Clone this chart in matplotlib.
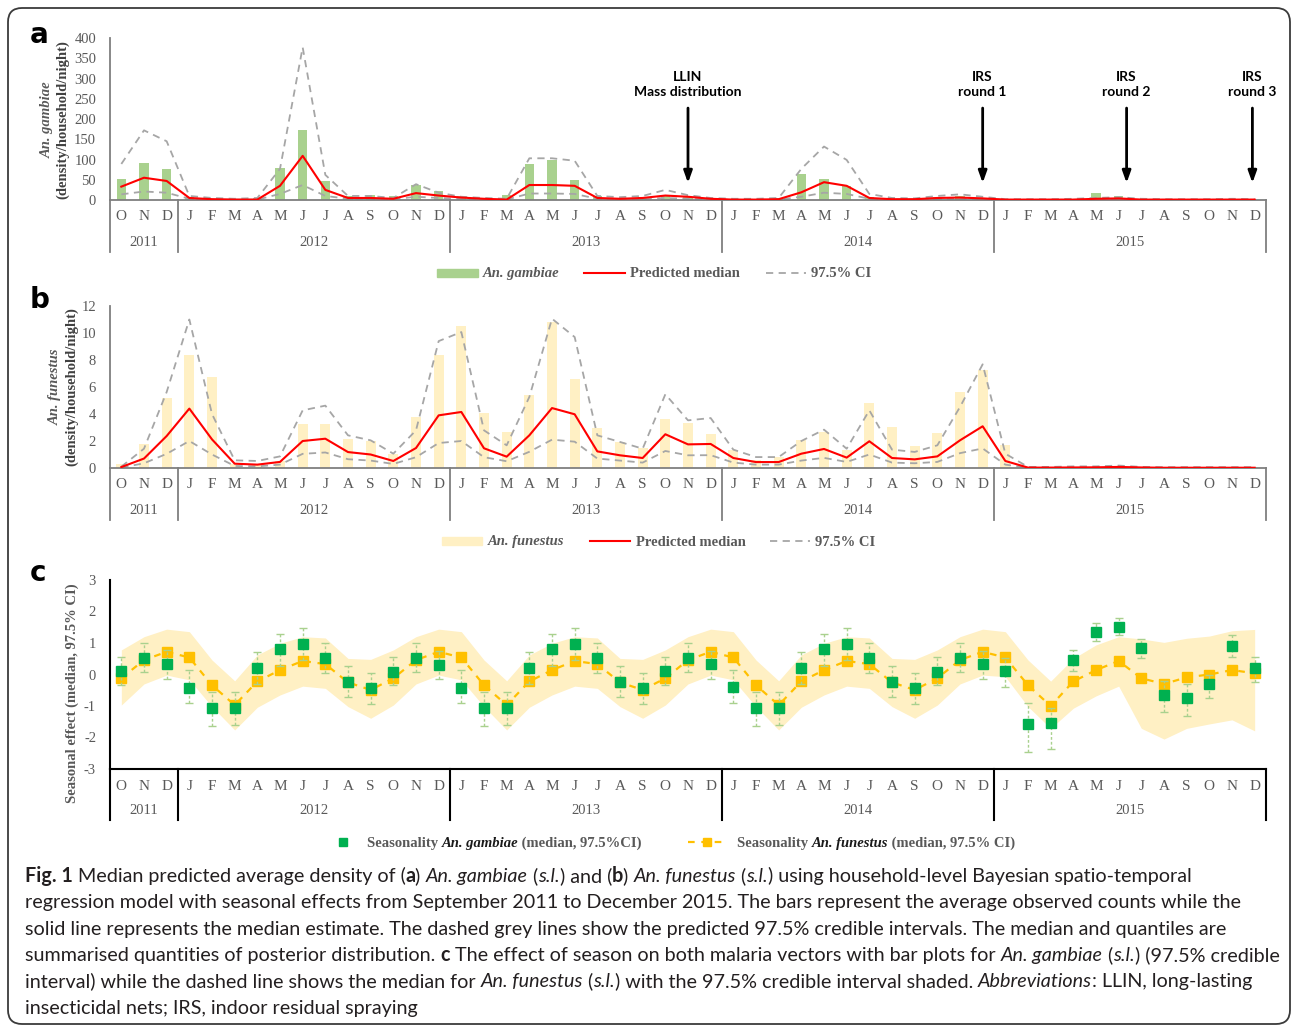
import matplotlib
matplotlib.use("Agg")
from matplotlib import pyplot as plt
from matplotlib import transforms as mtrans
from matplotlib.patches import FancyBboxPatch, Rectangle
from matplotlib.lines import Line2D
from matplotlib.font_manager import FontProperties, findfont, get_font
import numpy as np

W, H = 1292, 1027
plt.rcParams['axes.unicode_minus'] = False

months = ['O', 'N', 'D'] + ['J', 'F', 'M', 'A', 'M', 'J', 'J', 'A', 'S', 'O', 'N', 'D'] * 4
years = ['2011', '2012', '2013', '2014', '2015']
year_start = [0, 3, 15, 27, 39]
year_end = [2, 14, 26, 38, 50]

# panel a - An. gambiae observed counts and model
gam_obs = [53, 91, 76,
           8, 3, 2, 4, 79, 172, 48, 11, 12, 10, 38, 23,
           10, 3, 12, 89, 98, 50, 10, 5, 7, 13, 8, 3,
           2, 2, 5, 65, 51, 35, 8, 3, 3, 8, 10, 6,
           1, 1, 1, 2, 17, 11, 2, 1, 1, 1, 3, 1]
gam_med = [33, 55, 47,
           5, 2, 1, 1, 35, 109, 25, 5, 5, 3, 17, 11,
           6, 3, 1, 37, 37, 35, 5, 3, 5, 11, 8, 3,
           1, 1, 2, 19, 44, 35, 5, 2, 2, 5, 6, 4,
           1, 1, 1, 1, 3, 4, 1, 1, 1, 1, 1, 1]
gam_hi = [89, 172, 145,
          10, 5, 3, 5, 77, 377, 62, 10, 10, 5, 39, 18,
          8, 5, 3, 103, 103, 97, 10, 7, 10, 25, 12, 5,
          3, 3, 5, 77, 132, 99, 15, 5, 4, 10, 14, 8,
          2, 2, 2, 3, 5, 7, 3, 2, 2, 2, 3, 2]
gam_lo = [14, 21, 18,
          3, 1, 1, 1, 15, 37, 10, 3, 3, 2, 8, 5,
          3, 1, 1, 16, 16, 15, 3, 2, 2, 5, 3, 1,
          0.5, 0.5, 1, 8, 18, 15, 3, 1, 1, 2, 3, 2,
          0.5, 0.5, 0.5, 0.5, 0.5, 0.5, 0.5, 0.5, 0.5, 0.5, 0.5, 0.5]

# panel b - An. funestus
fun_obs = [0.3, 1.75, 5.2,
           8.35, 6.74, 0.3, 0.2, 0.5, 3.23, 3.23, 2.17, 2.0, 1.06, 3.78, 8.35,
           10.54, 4.05, 2.67, 5.4, 10.8, 6.57, 3.0, 1.93, 1.5, 3.65, 3.33, 2.5,
           1.3, 0.6, 0.8, 2.05, 2.67, 1.36, 4.84, 3.04, 1.6, 2.6, 5.63, 7.23,
           1.68, 0.05, 0.05, 0.08, 0.08, 0.1, 0.05, 0.05, 0.05, 0.05, 0.05, 0.05]
fun_med = [0.07, 0.7, 2.37,
           4.4, 2.12, 0.32, 0.25, 0.45, 2.0, 2.17, 1.18, 1.0, 0.52, 1.48, 3.9,
           4.15, 1.46, 0.84, 2.42, 4.44, 3.98, 1.23, 0.94, 0.74, 2.5, 1.75, 1.78,
           0.74, 0.44, 0.44, 1.06, 1.41, 0.77, 1.98, 0.74, 0.64, 0.86, 2.05, 3.09,
           0.52, 0.03, 0.03, 0.04, 0.05, 0.08, 0.04, 0.02, 0.02, 0.02, 0.02, 0.02]
fun_hi = [0.1, 1.43, 5.63,
          11.0, 4.0, 0.57, 0.52, 0.86, 4.27, 4.62, 2.42, 2.05, 1.06, 2.79, 9.4,
          10.07, 2.79, 1.68, 5.26, 11.06, 9.7, 2.42, 1.93, 1.43, 5.46, 3.53, 3.7,
          1.36, 0.81, 0.81, 2.0, 2.84, 1.43, 4.27, 1.36, 1.19, 1.68, 4.52, 7.68,
          1.06, 0.08, 0.08, 0.12, 0.12, 0.18, 0.08, 0.06, 0.06, 0.06, 0.06, 0.06]
fun_lo = [0.03, 0.35, 1.05,
          2.0, 1.0, 0.15, 0.12, 0.25, 1.05, 1.15, 0.65, 0.55, 0.3, 0.8, 1.85,
          2.0, 0.8, 0.5, 1.2, 2.1, 1.95, 0.7, 0.55, 0.4, 1.26, 0.94, 0.95,
          0.4, 0.25, 0.25, 0.55, 0.75, 0.45, 1.0, 0.4, 0.35, 0.45, 1.1, 1.45,
          0.25, 0.01, 0.02, 0.02, 0.02, 0.02, 0.02, 0.02, 0.02, 0.02, 0.02, 0.02]

# panel c - seasonal effects
gam_seas = [0.11, 0.51, 0.32,
            -0.42, -1.07, -1.07, 0.20, 0.80, 0.96, 0.51, -0.23, -0.44, 0.09, 0.51, 0.29,
            -0.42, -1.07, -1.07, 0.20, 0.80, 0.96, 0.51, -0.23, -0.44, 0.11, 0.51, 0.32,
            -0.41, -1.07, -1.07, 0.20, 0.80, 0.96, 0.51, -0.23, -0.44, 0.09, 0.51, 0.32,
            0.11, -1.58, -1.55, 0.45, 1.34, 1.52, 0.83, -0.66, -0.76, -0.31, 0.89, 0.20]
gam_seas_lo = [-0.34, 0.07, -0.14,
               -0.92, -1.63, -1.60, -0.30, 0.27, 0.46, 0.04, -0.70, -0.94, -0.34, 0.07, -0.14,
               -0.92, -1.63, -1.60, -0.30, 0.27, 0.46, 0.04, -0.70, -0.94, -0.34, 0.07, -0.14,
               -0.92, -1.63, -1.60, -0.30, 0.27, 0.46, 0.04, -0.70, -0.94, -0.34, 0.07, -0.14,
               -0.39, -2.47, -2.38, 0.12, 1.06, 1.25, 0.51, -1.20, -1.31, -0.76, 0.55, -0.23]
gam_seas_hi = [0.57, 0.99, 0.78,
               0.14, -0.54, -0.57, 0.70, 1.28, 1.47, 1.01, 0.27, 0.06, 0.57, 0.99, 0.76,
               0.14, -0.54, -0.57, 0.70, 1.28, 1.47, 1.01, 0.27, 0.06, 0.57, 0.99, 0.76,
               0.14, -0.54, -0.57, 0.70, 1.28, 1.47, 1.01, 0.27, 0.06, 0.57, 0.99, 0.76,
               0.51, -0.89, -1.07, 0.78, 1.62, 1.80, 1.14, -0.20, -0.30, -0.02, 1.26, 0.57]
fun_seas = [-0.12, 0.46, 0.72,
            0.54, -0.34, -0.97, -0.22, 0.14, 0.43, 0.33, -0.25, -0.49, -0.12, 0.46, 0.72,
            0.54, -0.34, -0.97, -0.22, 0.14, 0.43, 0.33, -0.25, -0.49, -0.12, 0.46, 0.72,
            0.54, -0.34, -0.97, -0.22, 0.14, 0.43, 0.33, -0.25, -0.49, -0.12, 0.46, 0.72,
            0.54, -0.34, -1.00, -0.22, 0.14, 0.43, -0.12, -0.30, -0.09, 0.00, 0.14, 0.04]
fun_seas_hi = [0.78, 1.20, 1.44,
               1.36, 0.46, -0.20, 0.62, 0.99, 1.20, 1.16, 0.51, 0.48, 0.78, 1.20, 1.44,
               1.36, 0.46, -0.20, 0.62, 0.99, 1.20, 1.16, 0.51, 0.48, 0.78, 1.20, 1.44,
               1.36, 0.46, -0.20, 0.62, 0.99, 1.20, 1.16, 0.51, 0.48, 0.78, 1.20, 1.44,
               1.36, 0.46, -0.21, 0.51, 0.94, 1.20, 1.13, 1.02, 1.15, 1.22, 1.39, 1.43]
fun_seas_lo = [-0.97, -0.30, -0.02,
               -0.17, -1.02, -1.76, -1.04, -0.65, -0.37, -0.44, -1.02, -1.39, -0.97, -0.30, -0.02,
               -0.17, -1.02, -1.76, -1.04, -0.65, -0.37, -0.44, -1.02, -1.39, -0.97, -0.30, -0.02,
               -0.17, -1.02, -1.76, -1.04, -0.65, -0.37, -0.44, -1.02, -1.39, -0.97, -0.30, -0.02,
               -0.07, -1.02, -1.71, -1.07, -0.68, -0.37, -1.71, -2.05, -1.71, -1.57, -1.44, -1.79]

# interventions (month index, label)
events = [(25, 'LLIN\nMass distribution'), (38, 'IRS\nround 1'),
          (44.35, 'IRS\nround 2'), (49.9, 'IRS\nround 3')]

SERIF = 'Liberation Serif'
GREY = '#595959'
CAP = 'Lato'

fig = plt.figure(figsize=(W / 100, H / 100), dpi=100)


def fx(px):
    return px / W


def fy(py):
    return 1 - py / H


def text_w(s, family, fontsize, fontweight='normal', style='normal', **kw):
    # advance width in pixels (dpi 100)
    fp = FontProperties(family=family, size=fontsize, weight=fontweight, style=style)
    f = get_font(findfont(fp))
    f.set_size(fontsize, 100)
    return sum(f.load_char(ord(c)).linearHoriAdvance for c in s) / 65536


def rich(segs, x0, y, **base):
    # y is the baseline, in pixels from top
    x = x0
    for s, kw in segs:
        k = dict(base)
        k.update(kw)
        fig.text(fx(x), fy(y), s, va='baseline', ha='left', **k)
        x += text_w(s, **k)
    return x


x = np.arange(len(months))


def make_axes(top, bottom, ylo, yhi, spine_col, lw):
    ax = fig.add_axes([fx(110), fy(bottom), (1266 - 110) / W, (bottom - top) / H])
    ax.set_xlim(-0.5, len(months) - 0.5)
    ax.set_ylim(ylo, yhi)
    for s in ['top', 'right']:
        ax.spines[s].set_visible(False)
    for s in ['left', 'bottom']:
        ax.spines[s].set_color(spine_col)
        ax.spines[s].set_linewidth(lw)
    ax.set_xticks([])
    ax.tick_params(axis='y', length=0, labelsize=10.5, labelcolor=GREY, pad=10)
    ax.patch.set_alpha(0)
    return ax


def month_axis(ax, base_y, mon_y, yr_y, sep_y, col, lw):
    tr = mtrans.blended_transform_factory(ax.transData, fig.transFigure)
    for i, m in enumerate(months):
        ax.text(i, fy(mon_y), m, transform=tr, ha='center', va='center',
                family=SERIF, fontsize=11, color=GREY)
    for yr, a, b in zip(years, year_start, year_end):
        ax.text((a + b) / 2, fy(yr_y), yr, transform=tr, ha='center', va='center',
                family=SERIF, fontsize=10.5, color=GREY)
    for b in [-0.5] + [e + 0.5 for e in year_end]:
        ax.plot([b, b], [fy(base_y), fy(sep_y)], transform=tr, color=col, lw=lw,
                clip_on=False)


def style_labels(ax):
    for lab in ax.get_yticklabels():
        lab.set_family(SERIF)


# ---------------- panel a ----------------
axa = make_axes(38, 200, 0, 400, '#7f7f7f', 1.3)
axa.bar(x, gam_obs, width=0.42, color='#a9d18e', zorder=1)
axa.plot(x, gam_hi, color='#a6a6a6', ls=(0, (4, 3)), lw=1.3, zorder=2)
axa.plot(x, gam_lo, color='#a6a6a6', ls=(0, (4, 3)), lw=1.3, zorder=2)
axa.plot(x, gam_med, color='#ff0000', lw=1.5, zorder=3)
axa.set_yticks(np.arange(0, 401, 50))
style_labels(axa)
month_axis(axa, 200, 216, 243, 252, '#7f7f7f', 1.3)
for xi, lab in events:
    axa.annotate('', xy=(xi, 42), xytext=(xi, 227),
                 arrowprops=dict(arrowstyle='-|>,head_width=0.25,head_length=0.7',
                                 color='black', lw=2, shrinkA=0, shrinkB=0))
    axa.text(xi, 285, lab, ha='center', va='center', family='Lato', fontweight='bold',
             fontsize=10, linespacing=1.3)

fig.text(fx(30), fy(35), 'a', fontsize=20, fontweight='bold', family='DejaVu Sans',
         va='center', ha='left')
fig.text(fx(47), fy(120), 'An. gambiae', rotation=90, family=SERIF, style='italic',
         fontweight='bold', fontsize=10.5, color=GREY, ha='center', va='center')
fig.text(fx(63), fy(120), '(density/household/night)', rotation=90, family=SERIF,
         fontweight='bold', fontsize=10.5, color='#404040', ha='center', va='center')

# legend a
lg = dict(family=SERIF, fontsize=10.5, fontweight='bold', color=GREY)
fig.add_artist(Rectangle((fx(437), fy(277)), fx(41), 8 / H, color='#a9d18e'))
rich([('An. gambiae', dict(style='italic'))], 483, 277.5, **lg)
fig.add_artist(Line2D([fx(584), fx(625)], [fy(273), fy(273)], color='#ff0000', lw=1.5))
rich([('Predicted median', {})], 630, 277.5, **lg)
fig.add_artist(Line2D([fx(766), fx(806)], [fy(273), fy(273)], color='#a6a6a6', lw=1.3,
                      ls=(0, (4, 3))))
rich([('97.5% CI', {})], 811, 277.5, **lg)

# ---------------- panel b ----------------
axb = make_axes(306, 468, 0, 12, '#7f7f7f', 1.3)
axb.bar(x, fun_obs, width=0.45, color='#fff0c4', zorder=1)
axb.plot(x, fun_hi, color='#a6a6a6', ls=(0, (4, 3)), lw=1.3, zorder=2)
axb.plot(x, fun_lo, color='#a6a6a6', ls=(0, (4, 3)), lw=1.3, zorder=2)
axb.plot(x, fun_med, color='#ff0000', lw=1.5, zorder=3)
axb.set_yticks(np.arange(0, 13, 2))
style_labels(axb)
month_axis(axb, 468, 485, 511, 520, '#7f7f7f', 1.3)

fig.text(fx(30), fy(300), 'b', fontsize=20, fontweight='bold', family='DejaVu Sans',
         va='center', ha='left')
fig.text(fx(55), fy(387), 'An. funestus', rotation=90, family=SERIF, style='italic',
         fontweight='bold', fontsize=10.5, color=GREY, ha='center', va='center')
fig.text(fx(72), fy(387), '(density/household/night)', rotation=90, family=SERIF,
         fontweight='bold', fontsize=10.5, color='#404040', ha='center', va='center')

fig.add_artist(Rectangle((fx(442), fy(545)), fx(40), 8 / H, color='#fff0c4'))
rich([('An. funestus', dict(style='italic'))], 488, 545.5, **lg)
fig.add_artist(Line2D([fx(590), fx(630)], [fy(541), fy(541)], color='#ff0000', lw=1.5))
rich([('Predicted median', {})], 636, 545.5, **lg)
fig.add_artist(Line2D([fx(770), fx(810)], [fy(541), fy(541)], color='#a6a6a6', lw=1.3,
                      ls=(0, (4, 3))))
rich([('97.5% CI', {})], 815, 545.5, **lg)

# ---------------- panel c ----------------
axc = make_axes(580, 769, -3, 3, '#000000', 1.5)
axc.fill_between(x, fun_seas_lo, fun_seas_hi, color='#fff0c4', lw=0, zorder=1)
axc.plot(x, fun_seas, color='#ffc000', ls=(0, (3, 3)), lw=1.6, marker='s', ms=7,
         mec='#ffc000', mfc='#ffc000', zorder=2)
gs = np.array(gam_seas)
eb = axc.errorbar(x, gs, yerr=[gs - np.array(gam_seas_lo), np.array(gam_seas_hi) - gs],
                  fmt='none', ecolor='#a9d18e', elinewidth=1, capsize=3, zorder=3)
eb[2][0].set_linestyle((0, (2, 1.5)))
axc.plot(x, gam_seas, ls='none', marker='s', ms=7, color='#00b050', zorder=4)
axc.set_yticks(np.arange(-3, 4, 1))
axc.set_yticklabels([str(v) for v in range(-3, 4)])
style_labels(axc)
month_axis(axc, 769, 786, 811, 820, '#000000', 1.5)

fig.text(fx(30), fy(573), 'c', fontsize=20, fontweight='bold', family='DejaVu Sans',
         va='center', ha='left')
fig.text(fx(72), fy(693), 'Seasonal effect (median, 97.5% CI)', rotation=90, family=SERIF,
         fontweight='bold', fontsize=10.5, color=GREY, ha='center', va='center')

fig.add_artist(Line2D([fx(343)], [fy(842)], ls='none', marker='s', ms=6, color='#00b050'))
rich([('Seasonality ', {}), ('An. gambiae', dict(style='italic', color='#1a1a1a')),
      (' (median, 97.5%CI)', {})], 367, 846.5, **lg)
fig.add_artist(Line2D([fx(688), fx(725)], [fy(842), fy(842)], color='#ffc000', lw=1.6,
                      ls=(0, (3, 3))))
fig.add_artist(Line2D([fx(707)], [fy(842)], ls='none', marker='s', ms=6, color='#ffc000'))
rich([('Seasonality ', {}), ('An. funestus', dict(style='italic', color='#1a1a1a')),
      (' (median, 97.5% CI)', {})], 737, 846.5, **lg)

# ---------------- caption ----------------
B = dict(fontweight='bold')
I = dict(style='italic')
N = {}
cap_lines = [
    [('Fig. 1', B), (' Median predicted average density of (', N), ('a', B), (') ', N),
     ('An. gambiae', I), (' (', N), ('s.l.', I), (') and (', N), ('b', B), (') ', N),
     ('An. funestus', I), (' (', N), ('s.l.', I),
     (') using household-level Bayesian spatio-temporal', N)],
    [('regression model with seasonal effects from September 2011 to December 2015. '
      'The bars represent the average observed counts while the', N)],
    [('solid line represents the median estimate. The dashed grey lines show the '
      'predicted 97.5% credible intervals. The median and quantiles are', N)],
    [('summarised quantities of posterior distribution. ', N), ('c', B),
     (' The effect of season on both malaria vectors with bar plots for ', N),
     ('An. gambiae', I), (' (', N), ('s.l.', I), (') (97.5% credible', N)],
    [('interval) while the dashed line shows the median for ', N), ('An. funestus', I),
     (' (', N), ('s.l.', I), (') with the 97.5% credible interval shaded. ', N),
     ('Abbreviations', I), (': LLIN, long-lasting', N)],
    [('insecticidal nets; IRS, indoor residual spraying', N)],
]
cap_target = [1173, 1222, 1197, 1247, 1218]
base = dict(family=CAP, color='#231f20', fontsize=12)
w_all = sum(text_w(s, **dict(base, **k)) for line in cap_lines[:5] for s, k in line)
base['fontsize'] = 12 * sum(cap_target) / w_all
cap_y = [882, 908, 935, 961, 987, 1014]
for segs, yy in zip(cap_lines, cap_y):
    rich(segs, 25, yy, **base)

# rounded frame round the figure
frame = FancyBboxPatch((8, 3), 1282, H - 8 - 3,
                       boxstyle='round,pad=0,rounding_size=14',
                       transform=mtrans.IdentityTransform(), fill=False,
                       ec='#3a3a3a', lw=1.3)
fig.add_artist(frame)

fig.savefig('out.png', dpi=100)
